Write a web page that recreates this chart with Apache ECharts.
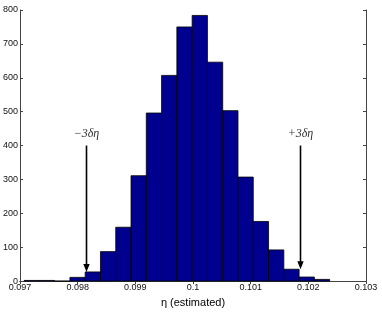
<!DOCTYPE html>
<html>
<head>
<meta charset="utf-8">
<script src="https://cdn.jsdelivr.net/npm/echarts@6/dist/echarts.min.js"></script>
<style>html,body{margin:0;padding:0;background:#fff}#c{width:382px;height:313px}</style>
</head>
<body>
<div id="c"></div>
<script>
// Histogram bin edges (eta estimated)
const binEdges = [0.097070,0.097335,0.097600,0.097865,0.098130,0.098395,0.098660,0.098925,0.099190,0.099455,0.099720,0.099985,0.100250,0.100515,0.100780,0.101045,0.101310,0.101575,0.101840,0.102105,0.102370];
// Counts per bin
const binCounts = [2,2,0,11,27,87,159,311,496,607,750,784,646,503,307,176,92,35,12,5];
// Axis ticks
const xTicks = [0.097,0.098,0.099,0.1,0.101,0.102,0.103];
const yTicks = [0,100,200,300,400,500,600,700,800];
// Arrows marking +-3 delta eta
const arrowX = [0.09814, 0.10186];
const arrowTop = [400, 400];
const arrowBottom = [27, 35];
const arrowLabels = ['\u22123\u03b4\u03b7', '+3\u03b4\u03b7'];
const xTitle = '\u03b7 (estimated)';

const histData = binCounts.map((c, i) => [binEdges[i], binEdges[i + 1], c]);
const arrowData = arrowX.map((x, i) => [x, arrowTop[i], arrowBottom[i], i]);

const chart = echarts.init(document.getElementById('c'), null, {renderer: 'canvas'});
const axisLine = {show: true, lineStyle: {color: '#444', width: 1}};
const tick = {show: true, inside: true, length: 3, lineStyle: {color: '#444', width: 1}};
chart.setOption({
  animation: false,
  backgroundColor: '#fff',
  grid: {left: 19, right: 16, top: 10, bottom: 30, containLabel: false},
  xAxis: [{
    type: 'value', min: xTicks[0], max: xTicks[xTicks.length - 1], interval: 0.001,
    position: 'bottom',
    axisLine: axisLine, axisTick: tick, splitLine: {show: false},
    axisLabel: {fontSize: 9, color: '#111', margin: 2, fontFamily: 'Liberation Sans',
      formatter: v => String(+(+v).toFixed(3))},
    name: xTitle, nameLocation: 'middle', nameGap: 8,
    nameTextStyle: {fontSize: 11, color: '#000', fontFamily: 'Liberation Sans', verticalAlign: 'top'}
  }, {
    type: 'value', min: xTicks[0], max: xTicks[xTicks.length - 1], interval: 0.001,
    position: 'top',
    axisLine: axisLine, axisTick: tick, splitLine: {show: false}, axisLabel: {show: false}
  }],
  yAxis: [{
    type: 'value', min: yTicks[0], max: yTicks[yTicks.length - 1], interval: 100,
    position: 'left',
    axisLine: axisLine, axisTick: tick, splitLine: {show: false},
    axisLabel: {fontSize: 9, color: '#111', margin: 2, fontFamily: 'Liberation Sans'}
  }, {
    type: 'value', min: yTicks[0], max: yTicks[yTicks.length - 1], interval: 100,
    position: 'right',
    axisLine: axisLine, axisTick: tick, splitLine: {show: false}, axisLabel: {show: false}
  }],
  series: [{
    type: 'custom',
    data: histData,
    renderItem: function (params, api) {
      const p0 = api.coord([api.value(0), api.value(2)]);
      const p1 = api.coord([api.value(1), 0]);
      return {
        type: 'rect',
        shape: {x: p0[0], y: p0[1], width: p1[0] - p0[0], height: p1[1] - p0[1]},
        style: {fill: '#00008F', stroke: '#000', lineWidth: 0.8}
      };
    },
    encode: {x: [0, 1], y: 2},
    z: 2
  }, {
    type: 'custom',
    data: arrowData,
    renderItem: function (params, api) {
      const top = api.coord([api.value(0), api.value(1)]);
      const bot = api.coord([api.value(0), api.value(2)]);
      const x = Math.round(top[0]) + 0.5;
      const headH = 8, headW = 3.2;
      return {
        type: 'group',
        children: [{
          type: 'line',
          shape: {x1: x, y1: top[1], x2: x, y2: bot[1] - headH + 1},
          style: {stroke: '#000', lineWidth: 1.6}
        }, {
          type: 'polygon',
          shape: {points: [[x - headW, bot[1] - headH], [x + headW, bot[1] - headH], [x, bot[1]]]},
          style: {fill: '#000'}
        }, {
          type: 'text',
          style: {
            text: arrowLabels[api.value(3)], x: x, y: top[1] - 6,
            align: 'center', verticalAlign: 'bottom',
            fontSize: 12, fontStyle: 'italic', fontFamily: 'Liberation Serif', fill: '#333'
          }
        }]
      };
    },
    encode: {x: 0, y: [1, 2]},
    z: 5
  }]
});
</script>
</body>
</html>
